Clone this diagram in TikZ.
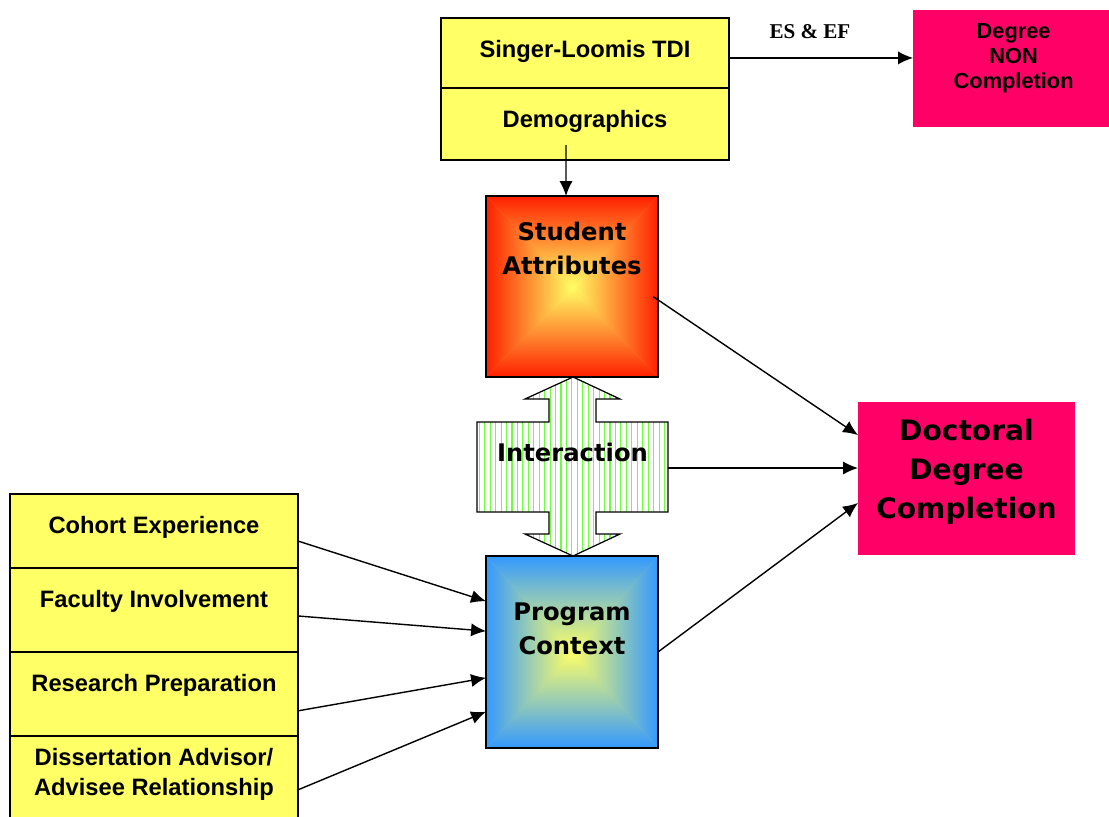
\documentclass[tikz,border=0pt]{standalone}
\usepackage{fontspec}
\usepackage{tikz}
\usetikzlibrary{positioning,backgrounds,arrows.meta,patterns.meta}
\newfontfamily\arialfont{Liberation Sans}
\newfontfamily\verdfont{DejaVu Sans}
\newfontfamily\timesfont{Liberation Serif}
\definecolor{cellyellow}{RGB}{255,255,102}
\definecolor{hotpink}{RGB}{255,0,102}
\definecolor{edgered}{RGB}{255,32,0}
\definecolor{edgeblue}{RGB}{51,153,255}
\definecolor{stripegreen}{RGB}{110,255,60}
% four-sided gradient behind a box: edge colour #2, centre colour #3
\newcommand{\pyrshade}[3]{%
  \begin{scope}[on background layer]
  \fill[#3!55!#2] (#1.north west) rectangle (#1.south east);
  \shade[top color=#2, middle color=#3!70!#2, bottom color=#3] (#1.north west) -- (#1.north east) -- (#1.center) -- cycle;
  \shade[top color=#3, middle color=#3!70!#2, bottom color=#2] (#1.south west) -- (#1.south east) -- (#1.center) -- cycle;
  \shade[left color=#2, middle color=#3!70!#2, right color=#3] (#1.north west) -- (#1.south west) -- (#1.center) -- cycle;
  \shade[left color=#3, middle color=#3!70!#2, right color=#2] (#1.north east) -- (#1.south east) -- (#1.center) -- cycle;
  \end{scope}}

\begin{document}
\begin{tikzpicture}[x=0.02cm, y=-0.02cm]
\tikzstyle{cell}=[rectangle, draw=black, line width=1pt, fill=cellyellow, minimum width=5.76cm, inner sep=0pt, outer sep=0pt]
\tikzstyle{bigbox}=[rectangle, draw=black, line width=1pt, minimum width=3.44cm, inner sep=0pt, outer sep=0pt]
\tikzstyle{pinkbox}=[rectangle, fill=hotpink, inner sep=0pt, outer sep=0pt]
\tikzstyle{lbl}=[inner sep=0pt, align=center, font=\arialfont\bfseries\fontsize{13.5}{17}\selectfont]
\tikzstyle{smalllbl}=[inner sep=0pt, align=center, font=\arialfont\bfseries\fontsize{12.4}{14.2}\selectfont]
\tikzstyle{big}=[inner sep=0pt, align=center, font=\verdfont\bfseries\fontsize{13.8}{19.3}\selectfont]
\tikzstyle{huge}=[inner sep=0pt, align=center, font=\verdfont\bfseries\fontsize{16}{22.1}\selectfont]
\tikzstyle{connect}=[-{Latex[length=8.5pt,width=7.5pt]}, thick]
  \useasboundingbox (0,0) rectangle (1109,816);
  \clip (0,0) rectangle (1109,816);
  % instrument
  \node[cell, minimum height=1.4cm] (tdi) at (585,53) {};
  \node[cell, minimum height=1.44cm, below=0pt of tdi] (demo) {};
  \node[lbl, below=12.7pt of tdi.north] (tditxt) {Singer-Loomis TDI};
  \node[lbl, below=12.7pt of demo.north] (demotxt) {Demographics};
  \node[pinkbox, minimum width=3.92cm, minimum height=2.34cm] (nonc) at (1011,68.5) {};
  \node[smalllbl, below=7.4pt of nonc.north, xshift=1.5pt] (nonctxt) {Degree\\NON\\Completion};
  % student / program
  \node[bigbox, minimum height=3.62cm] (sa) at (572,286.5) {};
  \pyrshade{sa}{edgered}{cellyellow}
  \node[big, below=14.8pt of sa.north] (satxt) {Student\\Attributes};
  \node[bigbox, minimum height=3.84cm] (pc) at (572,652) {};
  \pyrshade{pc}{edgeblue}{cellyellow}
  \node[big, below=26.2pt of pc.north] (pctxt) {Program\\Context};
  \node[pinkbox, minimum width=4.34cm, minimum height=3.06cm] (doc) at (966.5,478.5) {};
  \node[huge, below=9.6pt of doc.north] (doctxt) {Doctoral\\Degree\\Completion};
  % interaction arrow
  \path[draw=black, line width=0.7pt, pattern={Lines[angle=90,distance=3.1pt,line width=0.6pt]}, pattern color=stripegreen]
    (573,377) -- (620,399) -- (596,399) -- (596,422) -- (668,422) -- (668,512) -- (596,512) -- (596,534)
    -- (620,534) -- (573,556) -- (525,534) -- (549,534) -- (549,512) -- (477,512) -- (477,422)
    -- (549,422) -- (549,399) -- (525,399) -- cycle;
  \node[inner sep=0pt, minimum width=3.82cm, minimum height=1.8cm] (inter) at (572.5,468) {};
  \node[big, below=11.3pt of inter.north] (intertxt) {Interaction};
  % program factors
  \node[cell, minimum height=1.48cm] (cohort) at (154,531) {};
  \node[cell, minimum height=1.68cm, below=0pt of cohort] (faculty) {};
  \node[cell, minimum height=1.68cm, below=0pt of faculty] (research) {};
  \node[cell, minimum height=1.72cm, below=0pt of research] (diss) {};
  \node[lbl, below=12.7pt of cohort.north] (cohorttxt) {Cohort Experience};
  \node[lbl, below=12.7pt of faculty.north] (facultytxt) {Faculty Involvement};
  \node[lbl, below=12.7pt of research.north] (researchtxt) {Research Preparation};
  \node[lbl, below=7pt of diss.north] (disstxt) {Dissertation Advisor/\\Advisee Relationship};
  % connectors
  \draw[connect] ([yshift=-2.8pt]tdi.east) coordinate (es) -- (es -| nonc.west)
    node[pos=0.44, above=10.5pt, inner sep=0pt, font=\timesfont\bfseries\fontsize{12}{14}\selectfont] (esef) {ES \& EF};
  \draw[connect] ([xshift=-10.8pt,yshift=8.5pt]demo.south) -- ([xshift=-3.4pt]sa.north);
  \draw[connect] ([xshift=-2.8pt,yshift=-5.7pt]sa.east) -- ([yshift=24.7pt]doc.west);
  \draw[connect] (inter.east) -- (inter.east -| doc.west);
  \draw[connect] (pc.east) -- ([yshift=-13.9pt]doc.west);
  \draw[connect] ([yshift=-5.7pt]cohort.east) -- ([yshift=28.9pt]pc.west);
  \draw[connect] ([yshift=-3.4pt]faculty.east) -- ([yshift=11.9pt]pc.west);
  \draw[connect] ([yshift=-9.6pt]research.east) -- ([yshift=-14.7pt]pc.west);
  \draw[connect] ([yshift=-6.2pt]diss.east) -- ([yshift=-34pt]pc.west);
\end{tikzpicture}
\end{document}
